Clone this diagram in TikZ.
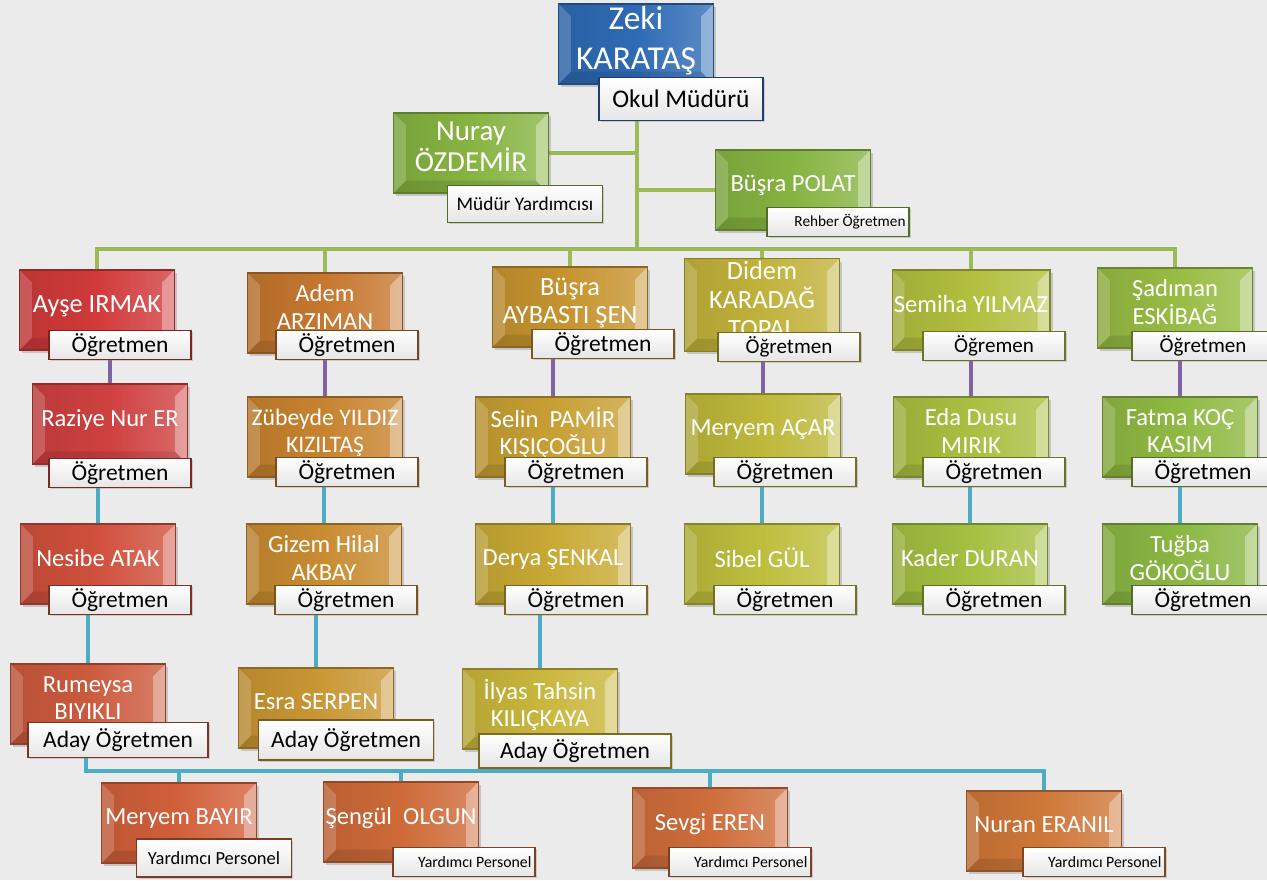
\documentclass[tikz,border=0pt]{standalone}
\usepackage{fontspec}
\setmainfont{Carlito}
\usetikzlibrary{backgrounds,shadows}

\definecolor{arka}{HTML}{EBEBEB}
\definecolor{mavi}{HTML}{2E6BB5}
\definecolor{yesil}{HTML}{86B441}
\definecolor{kirmizi1}{HTML}{D13A3A}
\definecolor{kirmizi2}{HTML}{CF4140}
\definecolor{kirmizi3}{HTML}{D0503C}
\definecolor{kirmizi4}{HTML}{CC5A3D}
\definecolor{turuncu1}{HTML}{C6772F}
\definecolor{turuncu2}{HTML}{C8832F}
\definecolor{turuncu3}{HTML}{C98C31}
\definecolor{turuncu4}{HTML}{C99633}
\definecolor{altin1}{HTML}{C79430}
\definecolor{altin2}{HTML}{C89F33}
\definecolor{altin3}{HTML}{C9AA35}
\definecolor{altin4}{HTML}{C9B63B}
\definecolor{zeytin1}{HTML}{C1B23A}
\definecolor{zeytin2}{HTML}{BEB83B}
\definecolor{zeytin3}{HTML}{BEBE3D}
\definecolor{sari1}{HTML}{B2BF3E}
\definecolor{sari2}{HTML}{AABF40}
\definecolor{sari3}{HTML}{A4C041}
\definecolor{yesil1}{HTML}{97BC43}
\definecolor{yesil2}{HTML}{90B943}
\definecolor{yesil3}{HTML}{8BB743}
\definecolor{kiremit1}{HTML}{D2603A}
\definecolor{kiremit2}{HTML}{CE6A38}
\definecolor{kiremit3}{HTML}{CF6D3B}
\definecolor{kiremit4}{HTML}{CF7738}
\definecolor{yesilhat}{HTML}{9BBB59}
\definecolor{morhat}{HTML}{8064A2}
\definecolor{mavihat}{HTML}{4BACC6}

\begin{document}
\begin{tikzpicture}[x=0.02cm, y=-0.02cm,
 kutu/.style={rectangle, draw=#1!70!black, line width=0.6pt,
  left color=#1!90!black, right color=#1!78!white, middle color=#1,
  text=white, align=center, inner sep=1pt,
  minimum width=3.1cm, minimum height=1.6cm,
  font=\fontsize{14}{15.5}\selectfont,
  drop shadow={opacity=0.35, shadow xshift=1.5pt, shadow yshift=-1.5pt},
  path picture={
   \fill[white, opacity=0.35] (path picture bounding box.north east) -- ++(-7pt,-7pt)
    -- ([shift={(-7pt,7pt)}]path picture bounding box.south east) -- (path picture bounding box.south east) -- cycle;
   \fill[white, opacity=0.18] (path picture bounding box.north west) -- ++(7pt,-7pt)
    -- ([shift={(7pt,7pt)}]path picture bounding box.south west) -- (path picture bounding box.south west) -- cycle;
   \fill[black, opacity=0.1] (path picture bounding box.south west) -- ++(7pt,7pt)
    -- ([shift={(-7pt,7pt)}]path picture bounding box.south east) -- (path picture bounding box.south east) -- cycle;
  }},
 etiket/.style={rectangle, draw=#1!60!black, line width=1pt,
  top color=white, bottom color=black!10, text=black, inner sep=1pt,
  minimum width=2.84cm, minimum height=0.58cm,
  font=\fontsize{13.4}{14}\selectfont,
  drop shadow={opacity=0.3, shadow xshift=1pt, shadow yshift=-1pt}},
 yhat/.style={line width=2.3pt, color=yesilhat, line cap=rect},
 mhat/.style={line width=2.3pt, color=morhat, line cap=rect},
 chat/.style={line width=2.3pt, color=mavihat, line cap=rect}]

\useasboundingbox (0,0) rectangle (1267,880);

%kisi: ad, kutu, renk, kutu stili, isim, etiket, etiket stili, gorev
\def\Kisi#1#2#3#4#5#6#7#8{
\node[kutu=#3, #4] (#1) at (#2) {#5\rule[-7pt]{0pt}{0pt}};
\node[etiket=#3, #7] (#1t) at (#6) {#8};
}

%Yonetim
\Kisi{zeki}{636,44}{mavi}{font=\fontsize{19}{23}\selectfont}{Zeki\\KARATAŞ}
 {681,99}{minimum width=3.28cm, minimum height=0.86cm, font=\fontsize{14.5}{15}\selectfont}{Okul Müdürü}
\Kisi{nuray}{471,153}{yesil}{font=\fontsize{16.5}{18}\selectfont}{Nuray\\ÖZDEMİR}
 {525,204}{minimum width=3.1cm, minimum height=0.74cm, font=\fontsize{11}{12}\selectfont}{Müdür Yardımcısı}
\Kisi{polat}{793,190}{yesil}{}{Büşra POLAT}
 {838,222}{font=\fontsize{8.7}{9}\selectfont, text width=2.7cm, align=flush right}{Rehber Öğretmen}

%Ogretmenler
\Kisi{ayse}{97,310}{kirmizi1}{font=\fontsize{15}{16}\selectfont}{Ayşe IRMAK}{120,345}{}{Öğretmen}
\Kisi{adem}{325,313}{turuncu1}{}{Adem\\ARZIMAN}{347,345}{}{Öğretmen}
\Kisi{busra}{570,307}{altin1}{font=\fontsize{15}{16}\selectfont}{Büşra\\AYBASTI ŞEN}{603,344}{}{Öğretmen}
\Kisi{didem}{762,305}{zeytin1}{font=\fontsize{15}{16.5}\selectfont}{Didem\\KARADAĞ\\TOPAL}
 {789,347}{font=\fontsize{12}{13}\selectfont}{Öğretmen}
\Kisi{semiha}{971,310}{sari1}{}{Semiha YILMAZ}{994,346}{font=\fontsize{12}{13}\selectfont}{Öğremen}
\Kisi{sadiman}{1175,308}{yesil1}{}{Şadıman\\ESKİBAĞ}{1203,346}{font=\fontsize{12}{13}\selectfont}{Öğretmen}

\Kisi{raziye}{110,424}{kirmizi2}{}{Raziye Nur ER}{120,473}{}{Öğretmen}
\Kisi{zubeyde}{325,437}{turuncu2}{font=\fontsize{13.5}{15}\selectfont}{Zübeyde YILDIZ\\KIZILTAŞ}{347,472}{}{Öğretmen}
\Kisi{selin}{553,437}{altin2}{}{Selin~ PAMİR\\KIŞIÇOĞLU}{576,472}{}{Öğretmen}
\Kisi{meryema}{763,434}{zeytin2}{}{Meryem AÇAR}{785,472}{}{Öğretmen}
\Kisi{eda}{971,437}{sari2}{}{Eda Dusu\\MIRIK}{994,472}{}{Öğretmen}
\Kisi{fatma}{1180,437}{yesil2}{}{Fatma KOÇ\\KASIM}{1203,472}{}{Öğretmen}

\Kisi{nesibe}{98,564}{kirmizi3}{}{Nesibe ATAK}{120,600}{}{Öğretmen}
\Kisi{gizem}{324,564}{turuncu3}{}{Gizem Hilal\\AKBAY}{346,600}{}{Öğretmen}
\Kisi{derya}{553,564}{altin3}{}{Derya ŞENKAL}{576,600}{}{Öğretmen}
\Kisi{sibel}{762,564}{zeytin3}{}{Sibel GÜL}{785,600}{}{Öğretmen}
\Kisi{kader}{970,564}{sari3}{}{Kader DURAN}{994,600}{}{Öğretmen}
\Kisi{tugba}{1180,564}{yesil3}{}{Tuğba\\GÖKOĞLU}{1203,600}{}{Öğretmen}

%Aday ogretmenler
\Kisi{rumeysa}{88,704}{kirmizi4}{}{Rumeysa\\BIYIKLI}{118,740}{minimum width=3.6cm, minimum height=0.7cm}{Aday Öğretmen}
\Kisi{esra}{316,708}{turuncu4}{}{Esra SERPEN}{346,740}{minimum width=3.5cm, minimum height=0.8cm}{Aday Öğretmen}
\Kisi{ilyas}{540,709}{altin4}{}{İlyas Tahsin\\KILIÇKAYA}{575,751}{minimum width=3.84cm, minimum height=0.68cm}{Aday Öğretmen}

%Yardimci personel
\Kisi{meryemb}{179,823}{kiremit1}{}{Meryem BAYIR}
 {214,858}{minimum width=3.1cm, minimum height=0.76cm, font=\fontsize{10.5}{11}\selectfont}{Yardımcı Personel}
\Kisi{sengul}{401,822}{kiremit2}{}{Şengül~ OLGUN}
 {464,862}{font=\fontsize{9}{10}\selectfont, text width=2.7cm, align=flush right}{Yardımcı Personel}
\Kisi{sevgi}{710,828}{kiremit3}{}{Sevgi EREN}
 {740,862}{font=\fontsize{9}{10}\selectfont, text width=2.7cm, align=flush right}{Yardımcı Personel}
\Kisi{nuran}{1044,831}{kiremit4}{}{Nuran ERANIL}
 {1094,862}{font=\fontsize{9}{10}\selectfont, text width=2.7cm, align=flush right}{Yardımcı Personel}

\coordinate (govde) at (637,249);
\coordinate (altbus) at (86,771);

\begin{pgfonlayer}{background}
\fill[arka] (0,0) rectangle (1267,880);

%yesil hatlar
\draw[yhat] (zekit.south -| govde) -- (govde);
\draw[yhat] (nuray.east) -- (nuray.east -| govde);
\draw[yhat] (polat.west) -- (polat.west -| govde);
\draw[yhat] (ayse.north |- govde) -- (sadiman.north |- govde);
\foreach \n in {ayse,adem,busra,didem,semiha,sadiman}
{ \draw[yhat] (\n.north |- govde) -- (\n.north); }

%mor hatlar
\foreach \ust/\alt in {ayset/raziye, ademt/zubeyde, busrat/selin, didemt/meryema, semihat/eda, sadimant/fatma}
{ \draw[mhat] (\ust.south -| \alt.north) -- (\alt.north); }

%mavi hatlar
\foreach \ust/\alt in {raziyet/nesibe, zubeydet/gizem, selint/derya, meryemat/sibel, edat/kader, fatmat/tugba, nesibet/rumeysa, gizemt/esra, deryat/ilyas}
{ \draw[chat] (\ust.south -| \alt.north) -- (\alt.north); }

\draw[chat] (rumeysat.south -| altbus) -- (altbus) -- (altbus -| nuran.north) -- (nuran.north);
\foreach \n in {meryemb,sengul,sevgi}
{ \draw[chat] (\n.north |- altbus) -- (\n.north); }
\end{pgfonlayer}
\end{tikzpicture}
\end{document}
